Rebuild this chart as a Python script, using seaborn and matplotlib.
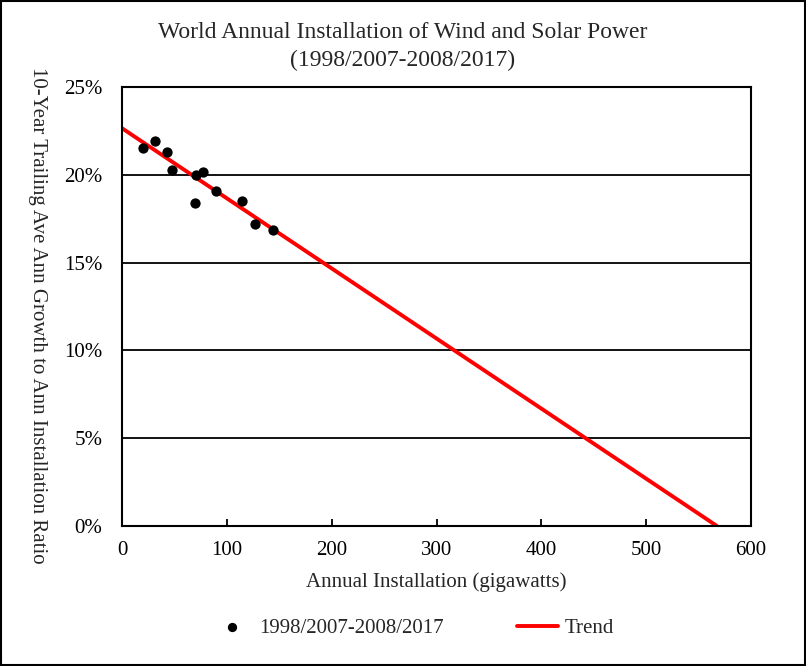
import matplotlib
matplotlib.use("Agg")
import matplotlib.pyplot as plt
import seaborn as sns
import pandas as pd
from matplotlib.ticker import PercentFormatter

# annual installation (GW) vs 10-year trailing growth/installation ratio (%)
install_gw = [20, 31, 43, 47.5, 69.5, 70.5, 77, 89.5, 114.5, 127, 144]
ratio_pct = [21.5, 21.9, 21.3, 20.3, 18.4, 20.0, 20.15, 19.1, 18.5, 17.2, 16.85]
trend_x = [0, 567.5]
trend_y = [22.65, 0]

points = pd.DataFrame({"x": install_gw, "y": ratio_pct})
trend = pd.DataFrame({"x": trend_x, "y": trend_y})

sns.set_style("white")
plt.rcParams["font.family"] = ["Liberation Serif", "DejaVu Serif"]

fig = plt.figure(figsize=(8.06, 6.66), dpi=100)
ax = fig.add_axes([0.1514, 0.2102, 0.7804, 0.6592])

sns.scatterplot(data=points, x="x", y="y", ax=ax, color="black", s=55,
                edgecolor="black", linewidth=0, zorder=3,
                label="1998/2007-2008/2017")
sns.lineplot(data=trend, x="x", y="y", ax=ax, color="#ff0000", linewidth=2.8,
             zorder=2, label="Trend")

ax.set_xlim(0, 600)
ax.set_ylim(0, 25)
ax.set_xticks(range(0, 601, 100))
ax.set_yticks(range(0, 26, 5))
ax.yaxis.set_major_formatter(PercentFormatter(decimals=0))
for v in [5, 10, 15, 20]:
    ax.axhline(v, color="black", linewidth=1.3, zorder=1)
for s in ax.spines.values():
    s.set_color("black")
    s.set_linewidth(1.5)
ax.tick_params(axis="x", direction="in", length=5, width=1.3, bottom=True,
               labelsize=15, pad=11, colors="black")
ax.tick_params(axis="y", length=0, labelsize=15, pad=14, colors="black")

ax.set_xlabel("Annual Installation (gigawatts)", fontsize=15, labelpad=8.5)
ax.set_ylabel("10-Year Trailing Ave Ann Growth to Ann Installation Ratio",
              fontsize=15, rotation=270, va="bottom")
ax.yaxis.set_label_coords(-0.15, 0.48)

fig.text(0.5, 0.951, "World Annual Installation of Wind and Solar Power",
         ha="center", va="center", fontsize=17)
fig.text(0.5, 0.909, "(1998/2007-2008/2017)", ha="center", va="center",
         fontsize=17)

handles, labels = ax.get_legend_handles_labels()
ax.get_legend().remove()
fig.legend(handles, labels, loc="center", bbox_to_anchor=(0.512, 0.057),
           ncol=2, frameon=False, fontsize=15, columnspacing=3.5,
           handlelength=2.0, handletextpad=0.3, markerscale=0.9)

fig.patches.append(plt.Rectangle((0.001, 0.001), 0.998, 0.998,
                                 transform=fig.transFigure, fill=False,
                                 edgecolor="black", linewidth=1.5))

plt.savefig("out.png", dpi=100)
plt.close()
